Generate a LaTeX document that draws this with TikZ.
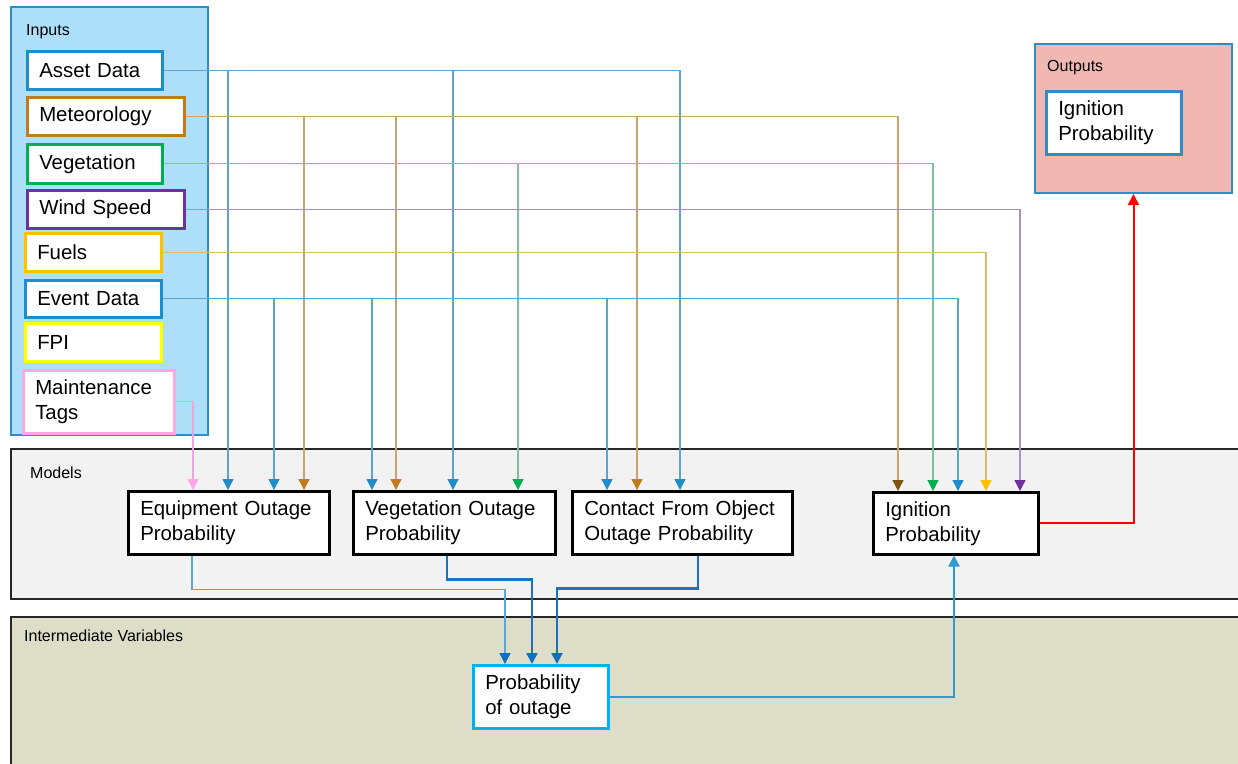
\documentclass[tikz,border=0pt]{standalone}
\usepackage{fontspec}
\setmainfont{Liberation Sans}
\usetikzlibrary{arrows.meta}
\definecolor{cAsset}{HTML}{1F8DC9}
\definecolor{cMet}{HTML}{C27B1C}
\definecolor{cMetD}{HTML}{7F5410}
\definecolor{cVeg}{HTML}{00B050}
\definecolor{cWind}{HTML}{7030A0}
\definecolor{cFuel}{HTML}{FFC000}
\definecolor{cFPI}{HTML}{FFFF00}
\definecolor{cMaint}{HTML}{FFA6E6}
\definecolor{lAsset}{HTML}{5FA3CC}
\definecolor{lMet}{HTML}{C8A470}
\definecolor{lVeg}{HTML}{7CC2A0}
\definecolor{lWind}{HTML}{A690C4}
\definecolor{lFuel}{HTML}{D9BC70}
\definecolor{lEvent}{HTML}{5AA5CF}
\definecolor{lMaint}{HTML}{E8AADA}
\definecolor{inFill}{HTML}{ADDFF8}
\definecolor{panelBlue}{HTML}{2E8EC4}
\definecolor{modFill}{HTML}{F2F2F2}
\definecolor{intFill}{HTML}{DDDDC8}
\definecolor{outFill}{HTML}{F1B8B3}
\definecolor{probBlue}{HTML}{00B0F0}
\definecolor{flowBlue}{HTML}{1F70BF}
\definecolor{flowLight}{HTML}{5DA5D8}
\definecolor{flowMid}{HTML}{2E9AD0}
\definecolor{tipBlue}{HTML}{1070C0}
\begin{document}
\begin{tikzpicture}[x=1pt,y=-1pt,
  panel/.style={draw, line width=2pt, anchor=north west, inner sep=0pt},
  plabel/.style={anchor=base west, inner sep=0pt, font=\fontsize{16}{19}\selectfont},
  inbox/.style={draw=#1, fill=white, line width=2.5pt, anchor=north west, inner xsep=12pt, inner ysep=0pt, align=left, font=\fontsize{20.4}{25}\selectfont},
  mbox/.style={draw=black, fill=white, line width=2.5pt, anchor=north west, inner xsep=12pt, inner ysep=0pt, align=left, font=\fontsize{20.4}{25}\selectfont},
  ln/.style={line width=1.3pt, draw=#1},
  tip/.style={-{Triangle[width=11pt,length=11pt,color=#1]}},
  flow/.style={line width=#1}
]
\useasboundingbox (0,0) rectangle (1238,763);
% panels
\node[panel, draw=panelBlue, fill=inFill, minimum width=197pt, minimum height=428pt] (inputs) at (10,6) {};
\node[panel, draw=black!85, fill=modFill, minimum width=1240pt, minimum height=150pt] (models) at (10,448) {};
\node[panel, draw=black!85, fill=intFill, minimum width=1240pt, minimum height=160pt] (inter) at (10,616) {};
\node[panel, draw=panelBlue, fill=outFill, minimum width=197pt, minimum height=149pt] (outp) at (1034,43) {};
\node[plabel] (linputs) at (26,35) {Inputs};
\node[plabel] (lmodels) at (30,478) {Models};
\node[plabel] (linter) at (24,641) {Intermediate Variables};
\node[plabel] (loutputs) at (1047,71) {Outputs};

% model boxes
\node[mbox, minimum height=63pt, text width=177pt] (eq) at (127,490) {Equipment Outage\\Probability};
\node[mbox, minimum height=63pt, text width=178pt] (vm) at (352,490) {Vegetation Outage\\Probability};
\node[mbox, minimum height=63pt, text width=196pt] (co) at (571,490) {Contact From Object\\Outage Probability};
\node[mbox, minimum height=62pt, text width=141pt] (ig) at (872,491) {Ignition\\Probability};
\node[inbox=probBlue, minimum height=63pt, text width=111pt] (prob) at (472,664) {Probability\\of outage};
\node[inbox=panelBlue, minimum height=63pt, text width=111pt] (out) at (1045,90) {Ignition\\Probability};

% inputs
\node[inbox=cAsset, minimum height=38pt, text width=111pt] (asset) at (26,50) {Asset Data};
\node[inbox=cMet, minimum height=38pt, text width=133pt] (met) at (26,96) {Meteorology};
\node[inbox=cVeg, minimum height=39pt, text width=111pt] (veg) at (26,143) {Vegetation};
\node[inbox=cWind, minimum height=38pt, text width=133pt] (wind) at (26,189) {Wind Speed};
\node[inbox=cFuel, minimum height=38pt, text width=112pt] (fuel) at (24,232) {Fuels};
\node[inbox=cAsset, minimum height=37pt, text width=112pt] (event) at (24,279) {Event Data};
\node[inbox=cFPI, minimum height=38pt, text width=112pt] (fpi) at (24,322) {FPI};
\node[inbox=cMaint, minimum height=63pt, text width=127pt] (maint) at (22,369) {Maintenance\\Tags};

% connectors from inputs
\draw[ln=lAsset, tip=cAsset] (asset.east) -| ([xshift=101pt]eq.north west);
\draw[ln=lAsset, tip=cAsset] (asset.east) -| ([xshift=101pt]vm.north west);
\draw[ln=lAsset, tip=cAsset] (asset.east) -| ([xshift=109pt]co.north west);

\draw[ln=lMet, tip=cMet] (met.east) -| ([xshift=177pt]eq.north west);
\draw[ln=lMet, tip=cMet] (met.east) -| ([xshift=44pt]vm.north west);
\draw[ln=lMet, tip=cMet] (met.east) -| ([xshift=66pt]co.north west);
\draw[ln=lMet, tip=cMetD] (met.east) -| ([xshift=26pt]ig.north west);

\draw[ln=lVeg, tip=cVeg] (veg.east) -| ([xshift=166pt]vm.north west);
\draw[ln=lVeg, tip=cVeg] (veg.east) -| ([xshift=61pt]ig.north west);

\draw[ln=lWind, tip=cWind] (wind.east) -| ([xshift=148pt]ig.north west);

\draw[ln=lFuel, tip=cFuel] (fuel.east) -| ([xshift=114pt]ig.north west);

\draw[ln=lEvent, tip=cAsset] (event.east) -| ([xshift=147pt]eq.north west);
\draw[ln=lEvent, tip=cAsset] (event.east) -| ([xshift=20pt]vm.north west);
\draw[ln=lEvent, tip=cAsset] (event.east) -| ([xshift=36pt]co.north west);
\draw[ln=lEvent, tip=cAsset] (event.east) -| ([xshift=86pt]ig.north west);

\draw[ln=lMaint, tip=cMaint] (maint.east) -| ([xshift=66pt]eq.north west);

% model outputs to probability of outage
\draw[flow=1.5pt, draw=flowLight, tip=tipBlue] ([xshift=65pt]eq.south west) -- ++(0,34) -| ([xshift=33pt]prob.north west);
\draw[flow=2.3pt, draw=flowBlue, tip=tipBlue] ([xshift=95pt]vm.south west) -- ++(0,24) -| ([xshift=60pt]prob.north west);
\draw[flow=2.3pt, draw=flowBlue, tip=tipBlue] ([xshift=127pt]co.south west) -- ++(0,33) -| ([xshift=85pt]prob.north west);
\draw[flow=2pt, draw=flowMid, tip=flowMid] (prob.east) -| ([xshift=82pt]ig.south west);
\draw[flow=2pt, draw=red, tip=red] (ig.east) -| (outp.south);
\end{tikzpicture}
\end{document}
